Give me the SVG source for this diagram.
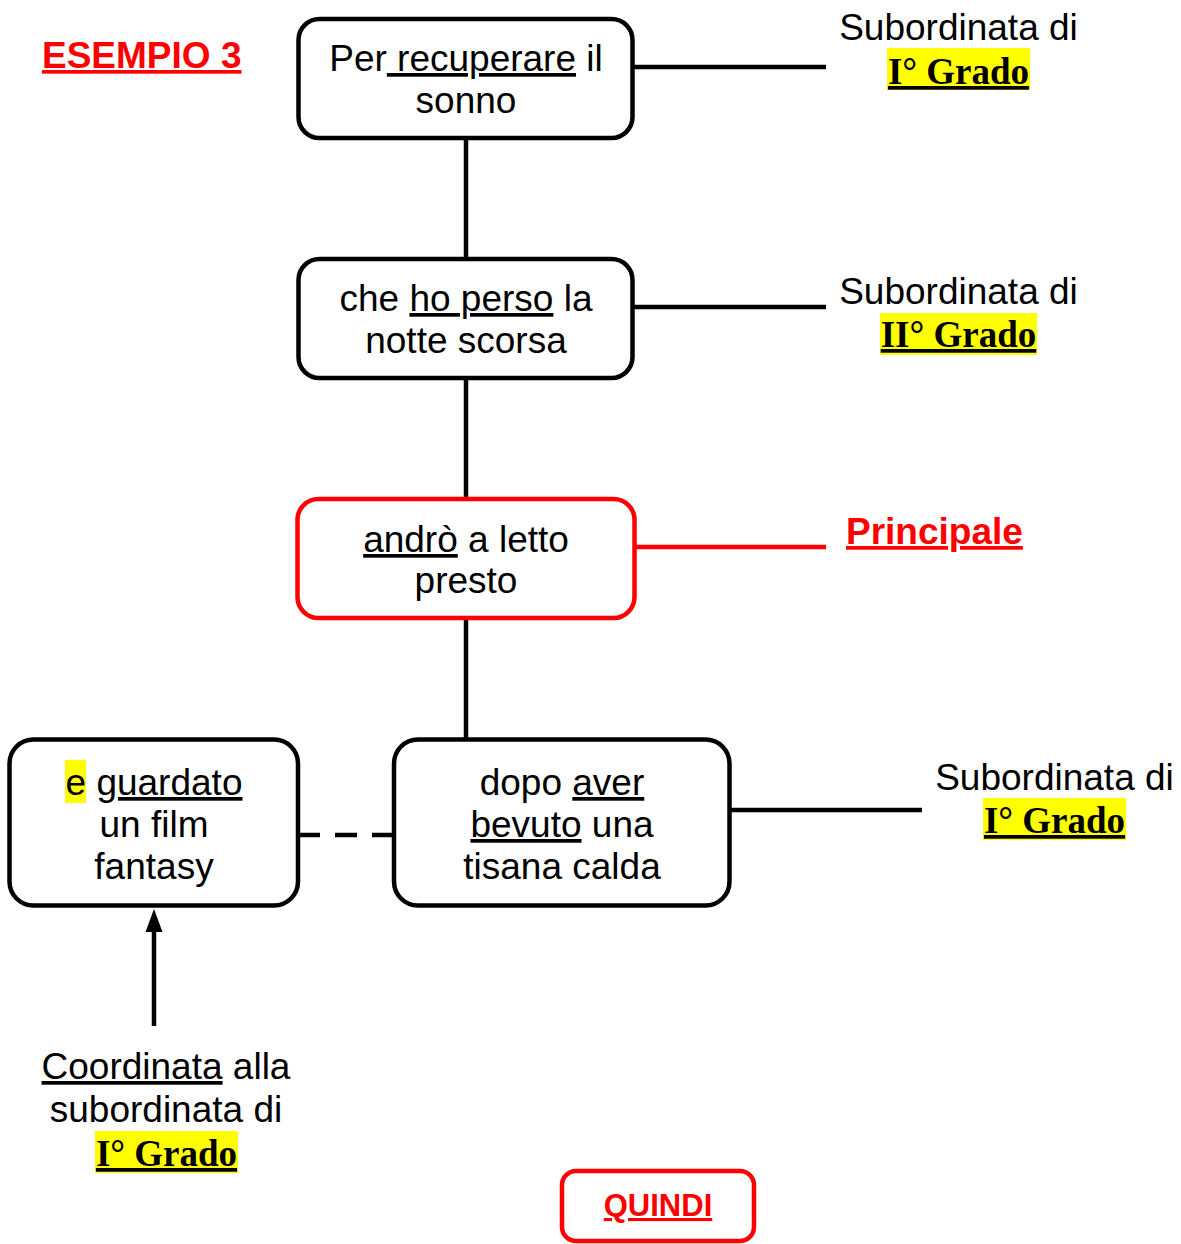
<svg xmlns="http://www.w3.org/2000/svg" width="1181" height="1244" viewBox="0 0 1181 1244">
<style>
.box{fill:#fff;stroke:#000;stroke-width:4.5}
.rbox{fill:#fff;stroke:#f00;stroke-width:4.5}
.ln{stroke:#000;stroke-width:4.5;fill:none}
.t{font-family:"Liberation Sans",Arial,sans-serif;font-size:37px;fill:#000;text-anchor:middle}
.u{text-decoration:underline}
.g{font-family:"Liberation Serif","Times New Roman",serif;font-weight:bold;font-size:37px;fill:#000;text-anchor:middle;text-decoration:underline}
.hl{fill:#ff0}
.red{font-family:"Liberation Sans",Arial,sans-serif;font-weight:bold;fill:#f00;text-decoration:underline}
</style>
<rect width="1181" height="1244" fill="#fff"/>
<g id="connectors">
<line class="ln" x1="633" y1="67" x2="826" y2="67"/>
<line class="ln" x1="466" y1="138" x2="466" y2="259"/>
<line class="ln" x1="633" y1="307" x2="826" y2="307"/>
<line class="ln" x1="466" y1="378" x2="466" y2="499"/>
<line x1="633" y1="547" x2="826" y2="547" stroke="#f00" stroke-width="4.5"/>
<line class="ln" x1="466" y1="618" x2="466" y2="740"/>
<line class="ln" x1="729" y1="810" x2="922" y2="810"/>
<line class="ln" x1="298" y1="835" x2="394" y2="835" stroke-dasharray="22 15"/>
<line class="ln" x1="154" y1="1026" x2="154" y2="928"/>
<polygon points="154,909 145.5,932 162.5,932" fill="#000"/>
</g>
<g id="title">
<text class="red" x="42" y="68" font-size="37">ESEMPIO 3</text>
</g>
<g id="n1">
<rect class="box" x="298.5" y="19" width="334" height="119" rx="21"/>
<text class="t" x="466" y="71">Per<tspan class="u"> recuperare</tspan> il</text>
<text class="t" x="466" y="113">sonno</text>
</g>
<g id="n2">
<rect class="box" x="298.5" y="259" width="334" height="119" rx="21"/>
<text class="t" x="466" y="311">che <tspan class="u">ho perso</tspan> la</text>
<text class="t" x="466" y="353">notte scorsa</text>
</g>
<g id="n3">
<rect class="rbox" x="297.5" y="499" width="337" height="119" rx="21"/>
<text class="t" x="466" y="552"><tspan class="u">andrò</tspan> a letto</text>
<text class="t" x="466" y="593">presto</text>
</g>
<g id="n4">
<rect class="box" x="394" y="739.5" width="335.5" height="166" rx="24"/>
<text class="t" x="562" y="795">dopo <tspan class="u">aver</tspan></text>
<text class="t" x="562" y="837"><tspan class="u">bevuto</tspan> una</text>
<text class="t" x="562" y="879">tisana calda</text>
</g>
<g id="n5">
<rect class="box" x="9.5" y="739.5" width="288.5" height="166" rx="24"/>
<rect class="hl" x="65" y="760" width="21" height="43"/>
<text class="t" x="154" y="795">e <tspan class="u">guardato</tspan></text>
<text class="t" x="154" y="837">un film</text>
<text class="t" x="154" y="879">fantasy</text>
</g>
<g id="l1">
<text class="t" x="958.5" y="40">Subordinata di</text>
<rect class="hl" x="887" y="48" width="143" height="42"/>
<text class="g" x="958.5" y="84">I° Grado</text>
</g>
<g id="l2">
<text class="t" x="958.5" y="304">Subordinata di</text>
<rect class="hl" x="880" y="313" width="157" height="42"/>
<text class="g" x="958.5" y="347">II° Grado</text>
</g>
<g id="l3">
<text class="red" x="846" y="544" font-size="37">Principale</text>
</g>
<g id="l4">
<text class="t" x="1054.5" y="790">Subordinata di</text>
<rect class="hl" x="983" y="798" width="143" height="42"/>
<text class="g" x="1054.5" y="833">I° Grado</text>
</g>
<g id="l5">
<text class="t" x="166" y="1079"><tspan class="u">Coordinata</tspan> alla</text>
<text class="t" x="166" y="1122">subordinata di</text>
<rect class="hl" x="95" y="1131" width="143" height="42"/>
<text class="g" x="166.5" y="1166">I° Grado</text>
</g>
<g id="quindi">
<rect class="rbox" x="562" y="1171" width="192" height="70" rx="14"/>
<text class="red" x="658" y="1216" font-size="31" text-anchor="middle">QUINDI</text>
</g>
</svg>
